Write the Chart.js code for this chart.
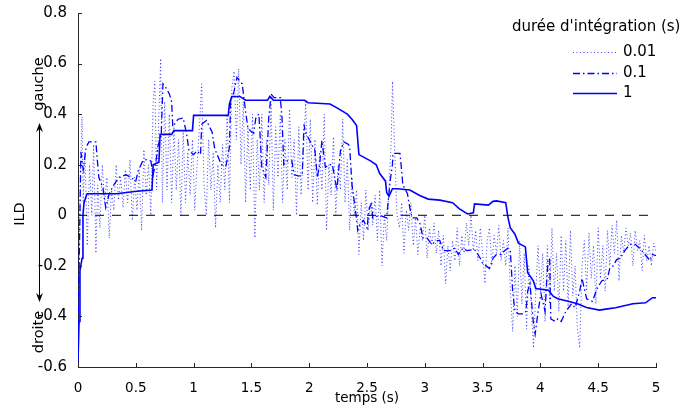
<!DOCTYPE html>
<html>
<head>
<meta charset="utf-8">
<script src="https://cdn.jsdelivr.net/npm/chart.js@4"></script>
<style>
  html, body { margin: 0; padding: 0; background: #fff; }
  canvas { display: block; }
</style>
</head>
<body>
<canvas id="ild" width="679" height="412"></canvas>
<script>
// integration time 0.01 s (dotted)
const dotT = [0.00,0.01,0.02,0.035,0.045,0.06,0.08,0.10,0.12,0.135,0.155,0.17,0.19,0.21,0.23,0.25,0.27,0.29,0.31,0.33,
  0.35,0.37,0.39,0.41,0.43,0.45,0.47,0.49,0.51,0.53,0.55,0.57,0.59,0.61,0.63,0.65,0.665,0.68,0.70,0.715,
  0.73,0.75,0.77,0.79,0.81,0.83,0.85,0.87,0.89,0.91,0.93,0.95,0.97,0.99,1.01,1.03,1.05,1.07,1.09,1.11,
  1.13,1.15,1.17,1.19,1.21,1.23,1.25,1.27,1.29,1.31,1.33,1.35,1.37,1.39,1.41,1.43,1.45,1.47,1.49,1.51,
  1.53,1.55,1.57,1.59,1.61,1.63,1.65,1.67,1.69,1.71,1.73,1.75,1.77,1.79,1.81,1.83,1.85,1.87,1.89,1.91,
  1.93,1.95,1.97,1.99,2.01,2.03,2.05,2.07,2.09,2.11,2.13,2.15,2.17,2.19,2.21,2.23,2.25,2.27,2.29,2.31,
  2.33,2.35,2.37,2.39,2.41,2.43,2.45,2.47,2.49,2.51,2.53,2.55,2.57,2.59,2.61,2.63,2.65,2.67,2.69,2.71,
  2.72,2.74,2.76,2.78,2.80,2.82,2.84,2.86,2.88,2.90,2.92,2.94,2.96,2.98,3.00,3.02,3.04,3.06,3.08,3.10,
  3.12,3.14,3.16,3.18,3.20,3.22,3.24,3.26,3.28,3.30,3.32,3.34,3.36,3.38,3.40,3.42,3.44,3.46,3.48,3.50,
  3.52,3.54,3.56,3.58,3.60,3.62,3.64,3.66,3.68,3.70,3.72,3.74,3.76,3.78,3.80,3.82,3.84,3.86,3.88,3.90,
  3.92,3.94,3.96,3.98,4.00,4.02,4.04,4.06,4.08,4.10,4.12,4.14,4.16,4.18,4.20,4.22,4.24,4.26,4.28,4.30,
  4.32,4.34,4.36,4.38,4.40,4.42,4.44,4.46,4.48,4.50,4.52,4.54,4.56,4.58,4.60,4.62,4.64,4.66,4.68,4.70,
  4.72,4.74,4.76,4.78,4.80,4.82,4.84,4.86,4.88,4.90,4.92,4.94,4.96,4.98,5.00];
const dotV = [-0.55,-0.2,0.15,0.39,0.05,0.25,-0.12,0.2,0.0,0.28,-0.15,0.12,-0.05,0.2,0.05,0.15,-0.09,0.1,0.02,0.2,
  0.06,0.15,0.03,0.18,0.05,0.22,-0.02,0.15,0.02,0.18,-0.06,0.26,0.08,0.2,0.0,0.45,0.53,0.1,0.4,0.62,
  0.05,0.45,0.1,0.4,0.05,0.35,0.1,0.3,0.0,0.33,0.05,0.25,0.08,0.3,0.02,0.2,0.35,0.52,0.12,0.0,
  0.3,0.1,0.25,-0.05,0.2,0.05,0.28,0.1,0.4,0.05,0.5,0.57,0.3,0.58,0.2,0.45,0.05,0.35,0.1,0.4,
  -0.09,0.3,0.1,0.4,0.05,0.3,0.12,0.45,0.02,0.35,0.15,0.4,0.05,0.3,0.1,0.42,0.15,0.3,0.0,0.35,
  0.08,0.25,0.45,0.1,0.38,0.05,0.3,0.04,0.25,0.1,0.4,-0.06,0.2,0.08,0.31,0.0,0.2,0.1,0.38,0.05,
  0.22,-0.06,0.15,0.0,0.1,-0.155,0.05,-0.1,0.1,-0.06,0.05,-0.04,0.08,-0.1,0.1,-0.2,0.0,-0.1,0.1,0.3,
  0.53,0.25,0.0,-0.05,0.05,-0.15,0.02,-0.06,0.05,-0.12,-0.01,-0.155,-0.05,-0.1,0.0,-0.17,-0.05,-0.12,-0.03,-0.15,
  -0.06,-0.2,-0.08,-0.27,-0.12,-0.22,-0.1,-0.18,-0.05,-0.2,-0.08,-0.15,-0.03,-0.12,0.0,-0.14,-0.06,-0.18,-0.05,-0.15,
  -0.27,-0.1,-0.05,-0.2,-0.08,-0.15,-0.04,-0.18,-0.1,-0.2,-0.05,-0.3,-0.46,-0.2,-0.4,-0.1,-0.35,-0.15,-0.45,-0.2,
  -0.35,-0.525,-0.3,-0.12,-0.3,-0.15,-0.42,-0.12,-0.35,-0.05,-0.3,-0.15,-0.38,-0.08,-0.3,-0.1,-0.36,-0.06,-0.32,-0.2,
  -0.45,-0.525,-0.2,-0.1,-0.3,-0.07,-0.25,-0.12,-0.35,-0.05,-0.25,-0.12,-0.3,-0.06,-0.2,-0.04,-0.15,-0.02,-0.26,-0.08,
  -0.15,-0.05,-0.12,-0.07,-0.2,-0.06,-0.14,-0.1,-0.22,-0.08,-0.18,-0.12,-0.2,-0.11,-0.14];

// integration time 0.1 s (dash-dot)
const dashT = [0.0,0.01,0.02,0.025,0.045,0.07,0.095,0.155,0.165,0.18,0.215,0.24,0.27,0.31,0.355,0.415,0.46,0.50,0.52,0.56,
  0.59,0.63,0.65,0.675,0.69,0.72,0.735,0.76,0.79,0.81,0.82,0.865,0.91,0.94,0.96,1.00,1.03,1.06,1.07,1.11,
  1.16,1.18,1.19,1.24,1.28,1.31,1.32,1.35,1.375,1.42,1.45,1.47,1.50,1.52,1.54,1.565,1.59,1.625,1.65,1.67,
  1.695,1.75,1.765,1.78,1.81,1.85,1.87,1.91,1.94,1.955,1.965,2.01,2.05,2.07,2.09,2.11,2.14,2.17,2.20,2.24,
  2.27,2.30,2.34,2.35,2.37,2.40,2.42,2.44,2.47,2.50,2.52,2.54,2.55,2.61,2.67,2.70,2.72,2.725,2.785,2.80,
  2.81,2.85,2.87,2.89,2.93,2.96,2.985,3.02,3.06,3.105,3.13,3.16,3.22,3.26,3.29,3.33,3.365,3.42,3.44,3.48,
  3.50,3.53,3.56,3.59,3.62,3.66,3.69,3.72,3.74,3.745,3.76,3.78,3.81,3.85,3.875,3.89,3.91,3.94,3.955,3.98,
  4.005,4.04,4.065,4.08,4.09,4.13,4.15,4.18,4.22,4.27,4.30,4.34,4.36,4.40,4.45,4.49,4.53,4.58,4.60,4.63,
  4.66,4.69,4.73,4.775,4.82,4.86,4.905,4.95,4.97,5.0];
const dashV = [-0.5,-0.2,0.1,0.25,0.18,0.27,0.29,0.29,0.23,0.15,0.11,0.03,0.085,0.12,0.15,0.16,0.15,0.135,0.175,0.215,
  0.22,0.215,0.16,0.215,0.27,0.32,0.52,0.505,0.48,0.45,0.35,0.38,0.385,0.32,0.255,0.24,0.255,0.24,0.36,0.375,
  0.33,0.27,0.255,0.2,0.195,0.27,0.45,0.49,0.545,0.52,0.41,0.345,0.33,0.325,0.39,0.40,0.19,0.15,0.385,0.48,
  0.465,0.465,0.385,0.2,0.215,0.215,0.16,0.155,0.16,0.36,0.33,0.29,0.255,0.15,0.2,0.295,0.19,0.2,0.2,0.1,
  0.255,0.29,0.28,0.27,0.12,0.02,-0.06,-0.035,-0.02,-0.05,0.03,0.045,-0.01,0.0,-0.01,0.135,0.2,0.245,0.245,0.175,
  0.12,0.085,0.03,-0.01,-0.01,-0.035,-0.09,-0.09,-0.115,-0.1,-0.1,-0.14,-0.14,-0.13,-0.155,-0.13,-0.14,-0.135,-0.14,-0.17,
  -0.19,-0.2,-0.21,-0.17,-0.155,-0.155,-0.14,-0.13,-0.14,-0.18,-0.3,-0.38,-0.39,-0.39,-0.38,-0.3,-0.27,-0.43,-0.47,-0.38,
  -0.31,-0.38,-0.18,-0.17,-0.41,-0.42,-0.41,-0.42,-0.38,-0.35,-0.365,-0.3,-0.25,-0.33,-0.34,-0.29,-0.26,-0.25,-0.21,-0.2,
  -0.175,-0.17,-0.14,-0.115,-0.115,-0.13,-0.155,-0.18,-0.155,-0.16];

// integration time 1 s (solid)
const solidT = [0.0,0.009,0.017,0.035,0.043,0.052,0.078,0.33,0.42,0.51,0.64,0.65,0.70,0.71,0.81,0.83,0.99,1.00,1.30,1.31,
  1.33,1.40,1.45,1.64,1.66,1.69,1.96,1.99,2.18,2.24,2.33,2.37,2.41,2.43,2.53,2.58,2.61,2.66,2.67,2.69,
  2.72,2.76,2.87,2.96,3.03,3.13,3.24,3.30,3.37,3.42,3.43,3.55,3.59,3.62,3.70,3.72,3.74,3.78,3.81,3.87,
  3.89,3.94,3.96,4.07,4.11,4.15,4.24,4.32,4.40,4.51,4.58,4.65,4.80,4.91,4.97,5.00];
const solidV = [-0.58,-0.42,-0.22,-0.17,0.0,0.05,0.085,0.085,0.09,0.095,0.1,0.2,0.21,0.32,0.32,0.335,0.335,0.395,0.395,0.44,
  0.47,0.47,0.455,0.455,0.47,0.455,0.455,0.445,0.44,0.425,0.40,0.38,0.355,0.24,0.215,0.20,0.165,0.135,0.09,0.075,
  0.105,0.105,0.10,0.077,0.064,0.06,0.05,0.025,0.005,0.01,0.045,0.04,0.055,0.057,0.05,-0.01,-0.05,-0.075,-0.11,-0.125,
  -0.227,-0.26,-0.29,-0.296,-0.32,-0.33,-0.34,-0.35,-0.365,-0.375,-0.37,-0.366,-0.35,-0.346,-0.326,-0.326];

const zeroT = [0, 5];
const zeroV = [0, 0];

const seriesLabels = ['0.01', '0.1', '1'];
const xTicks = [0, 0.5, 1, 1.5, 2, 2.5, 3, 3.5, 4, 4.5, 5];
const xTickLabels = ['0', '0.5', '1', '1.5', '2', '2.5', '3', '3.5', '4', '4.5', '5'];
const yTicks = [-0.6, -0.4, -0.2, 0, 0.2, 0.4, 0.6, 0.8];
const yTickLabels = ['-0.6', '-0.4', '-0.2', '0', '0.2', '0.4', '0.6', '0.8'];

const FONT = '"DejaVu Sans", sans-serif';
const AXIS = '#262626';

function toPoints(ts, vs) {
    return ts.map((t, i) => ({ x: t, y: vs[i] }));
}

const datasets = [
    {
        label: seriesLabels[0], data: toPoints(dotT, dotV),
        borderColor: 'rgba(0,0,255,0.75)', borderWidth: 1, borderDash: [1, 2.5], order: 3
    },
    {
        label: seriesLabels[1], data: toPoints(dashT, dashV),
        borderColor: '#0000ff', borderWidth: 1.3, borderDash: [7, 3, 1.5, 3], order: 2
    },
    {
        label: seriesLabels[2], data: toPoints(solidT, solidV),
        borderColor: '#0000ff', borderWidth: 1.6, borderDash: [], order: 1
    },
    {
        label: 'zero', data: toPoints(zeroT, zeroV),
        borderColor: '#000', borderWidth: 1, borderDash: [9, 8], order: 0
    }
];
datasets.forEach(d => { d.showLine = true; d.pointRadius = 0; d.fill = false; d.tension = 0; });

function rotatedText(ctx, text, x, y) {
    ctx.save();
    ctx.translate(x, y);
    ctx.rotate(-Math.PI / 2);
    ctx.fillText(text, 0, 0);
    ctx.restore();
}

function arrowHead(ctx, x, tipY, dir) {
    // dir = -1 points up, 1 points down
    ctx.beginPath();
    ctx.moveTo(x, tipY);
    ctx.lineTo(x - 3.5, tipY - dir * 9);
    ctx.lineTo(x, tipY - dir * 6);
    ctx.lineTo(x + 3.5, tipY - dir * 9);
    ctx.closePath();
    ctx.fill();
}

const decorations = {
    id: 'decorations',
    afterDraw(chart) {
        const ctx = chart.ctx;
        const xs = chart.scales.x, ys = chart.scales.y;
        const area = chart.chartArea;
        ctx.save();

        // inward ticks
        ctx.strokeStyle = AXIS;
        ctx.lineWidth = 1;
        ctx.setLineDash([]);
        xTicks.forEach(v => {
            const px = Math.round(xs.getPixelForValue(v)) + 0.5;
            ctx.beginPath();
            ctx.moveTo(px, area.bottom);
            ctx.lineTo(px, area.bottom - 4);
            ctx.stroke();
        });
        yTicks.forEach(v => {
            const py = Math.round(ys.getPixelForValue(v)) + 0.5;
            ctx.beginPath();
            ctx.moveTo(area.left, py);
            ctx.lineTo(area.left + 4, py);
            ctx.stroke();
        });

        // axis titles
        ctx.fillStyle = '#000';
        ctx.textAlign = 'center';
        ctx.textBaseline = 'middle';
        ctx.font = '13.5px ' + FONT;
        ctx.fillText('temps (s)', (area.left + area.right) / 2, 398);
        ctx.font = '14.5px ' + FONT;
        rotatedText(ctx, 'ILD', 20, 214);
        rotatedText(ctx, 'gauche', 39, 84);
        rotatedText(ctx, 'droite', 39, 332);

        // double arrow
        ctx.strokeStyle = '#000';
        ctx.beginPath();
        ctx.moveTo(39.5, 127);
        ctx.lineTo(39.5, 298);
        ctx.stroke();
        arrowHead(ctx, 39.5, 123, -1);
        arrowHead(ctx, 39.5, 302, 1);

        // legend
        ctx.font = '15px ' + FONT;
        ctx.textAlign = 'left';
        ctx.fillText("durée d'intégration (s)", 512, 27);
        const rows = [52, 73, 93];
        for (let i = 0; i < 3; i++) {
            const d = chart.data.datasets[i];
            ctx.strokeStyle = d.borderColor;
            ctx.lineWidth = d.borderWidth;
            ctx.setLineDash(d.borderDash);
            ctx.beginPath();
            ctx.moveTo(573, rows[i] + 0.5);
            ctx.lineTo(617, rows[i] + 0.5);
            ctx.stroke();
            ctx.fillText(seriesLabels[i], 623, rows[i]);
        }
        ctx.restore();
    }
};

new Chart(document.getElementById('ild'), {
    type: 'scatter',
    data: { datasets },
    options: {
        responsive: false,
        animation: false,
        devicePixelRatio: 1,
        layout: { padding: { left: 0, right: 23, top: 13, bottom: 0 } },
        plugins: { legend: { display: false }, tooltip: { enabled: false } },
        scales: {
            x: {
                type: 'linear', min: 0, max: 5,
                grid: { display: false },
                border: { display: true, color: AXIS, width: 1 },
                afterBuildTicks: s => { s.ticks = xTicks.map(v => ({ value: v })); },
                afterFit: s => { s.height = 45; },
                ticks: {
                    autoSkip: false, maxRotation: 0, padding: 5, color: '#000',
                    font: { family: FONT, size: 13.5 },
                    callback: (v, i) => xTickLabels[i]
                }
            },
            y: {
                type: 'linear', min: -0.6, max: 0.8,
                grid: { display: false },
                border: { display: true, color: AXIS, width: 1 },
                afterBuildTicks: s => { s.ticks = yTicks.map(v => ({ value: v })); },
                afterFit: s => { s.width = 78; },
                ticks: {
                    autoSkip: false, padding: 3, color: '#000',
                    font: { family: FONT, size: 15 },
                    callback: (v, i) => yTickLabels[i]
                }
            }
        }
    },
    plugins: [decorations]
});
</script>
</body>
</html>
